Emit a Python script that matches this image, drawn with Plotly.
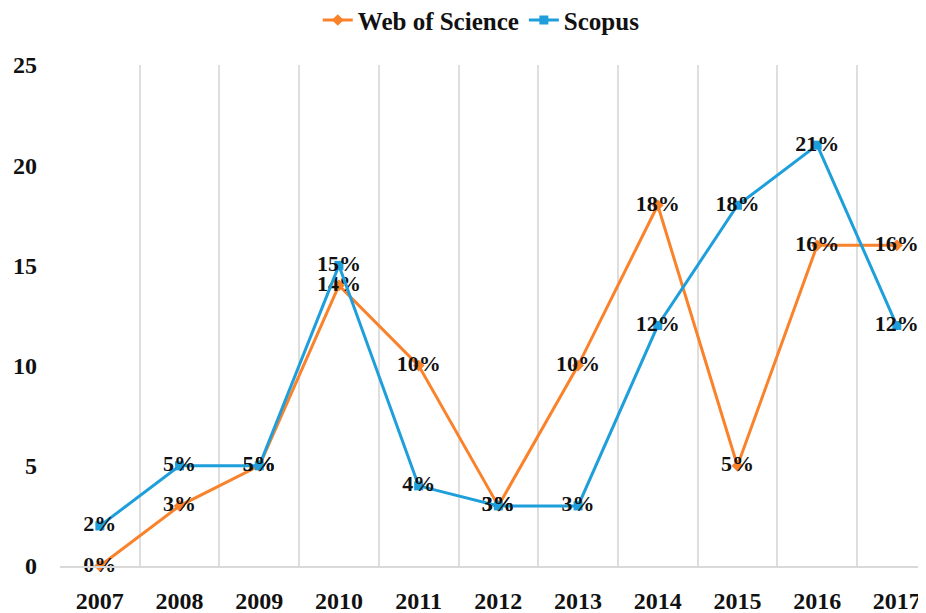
import plotly.graph_objects as go

years = ["2007", "2008", "2009", "2010", "2011", "2012", "2013", "2014", "2015", "2016", "2017"]
wos = [0, 3, 5, 14, 10, 3, 10, 18, 5, 16, 16]
scopus = [2, 5, 5, 15, 4, 3, 3, 12, 18, 21, 12]
y_ticks = [0, 5, 10, 15, 20, 25]

FONT = "Liberation Serif"
ORANGE = "#F9822B"
BLUE = "#1E9FDB"
LABEL_FONT = dict(family=FONT, size=22, color="#111111", weight="bold")

fig = go.Figure()
fig.add_trace(go.Scatter(
    x=years, y=wos, name="Web of Science", mode="lines+markers+text",
    line=dict(color=ORANGE, width=3),
    marker=dict(symbol="diamond", size=9, color=ORANGE),
    text=[f"{v}%" for v in wos], textposition="middle center",
    textfont=LABEL_FONT, cliponaxis=False,
))
fig.add_trace(go.Scatter(
    x=years, y=scopus, name="Scopus", mode="lines+markers+text",
    line=dict(color=BLUE, width=3),
    marker=dict(symbol="square", size=9, color=BLUE),
    text=[f"{v}%" for v in scopus], textposition="middle center",
    textfont=LABEL_FONT, cliponaxis=False,
))

fig.update_layout(
    width=926, height=613,
    margin=dict(l=52, r=0, t=57, b=55),
    paper_bgcolor="white", plot_bgcolor="white",
    font=dict(family=FONT, color="#111111"),
    legend=dict(orientation="h", x=0.482, xanchor="center",
                yref="container", y=0.98, yanchor="middle",
                font=dict(family=FONT, size=25, color="#111111", weight="bold"),
                itemwidth=30, tracegroupgap=0),
    showlegend=True,
)
fig.update_xaxes(
    type="category", range=[-0.5, 10.466], tickson="boundaries",
    showgrid=True, gridcolor="#dedede", gridwidth=1.5,
    showline=True, linecolor="#d9d9d9", linewidth=1.5,
    ticks="", ticklabelstandoff=12,
    tickfont=dict(family=FONT, size=24, color="#111111", weight="bold"),
)
fig.update_yaxes(
    range=[0, 25], tickvals=y_ticks, showgrid=False, zeroline=False,
    showline=False, ticks="", ticklabelstandoff=22,
    tickfont=dict(family=FONT, size=24, color="#111111", weight="bold"),
)

fig.write_html("out.html")
